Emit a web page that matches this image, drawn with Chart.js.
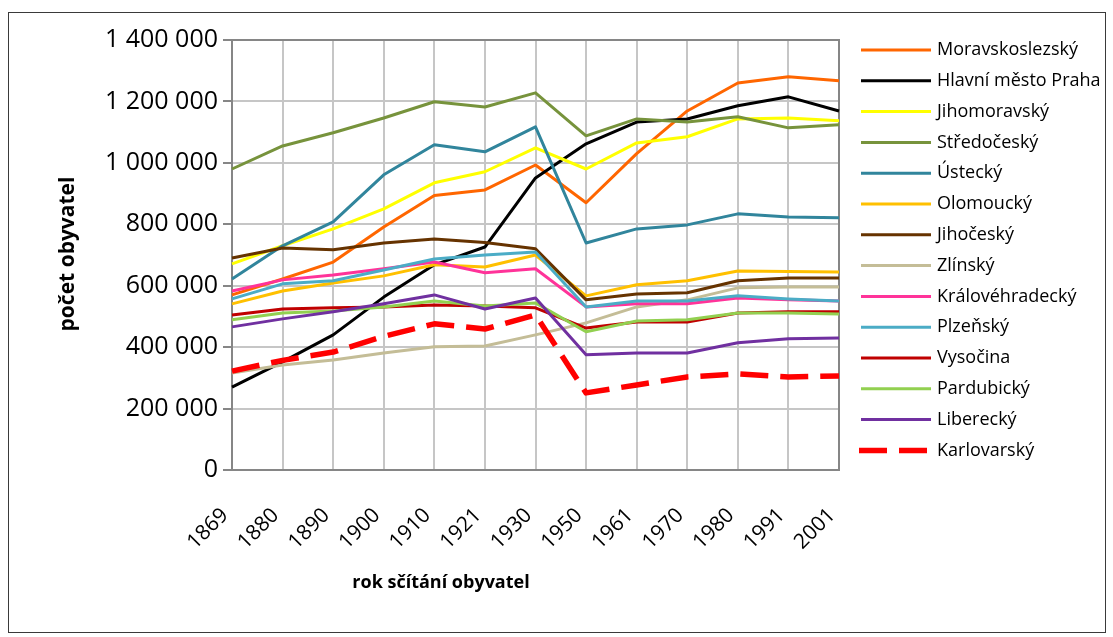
<!DOCTYPE html>
<html><head><meta charset="utf-8">
<script src="https://cdn.jsdelivr.net/npm/chart.js@4/dist/chart.umd.min.js"></script>
<style>html,body{margin:0;padding:0;background:#fff}#wrap{position:absolute;left:0;top:0;width:1113px;height:637px}</style>
</head><body><div id="wrap"><canvas id="c" width="1113" height="637"></canvas></div>
<script>
const years = ['1869','1880','1890','1900','1910','1921','1930','1950','1961','1970','1980','1991','2001'];
const yTicks = [0, 200000, 400000, 600000, 800000, 1000000, 1200000, 1400000];
const regions = ['Moravskoslezský','Hlavní město Praha','Jihomoravský','Středočeský','Ústecký','Olomoucký','Jihočeský','Zlínský','Královéhradecký','Plzeňský','Vysočina','Pardubický','Liberecký','Karlovarský'];
const moravskoslezsky = [570000, 622000, 677000, 791000, 894000, 912000, 993000, 870000, 1030000, 1169000, 1260000, 1280000, 1267000];
const praha = [270000, 352000, 440000, 563000, 668000, 726000, 951000, 1062000, 1133000, 1143000, 1186000, 1215000, 1169000];
const jihomoravsky = [671000, 730000, 785000, 850000, 935000, 971000, 1049000, 980000, 1065000, 1085000, 1143000, 1146000, 1137000];
const stredocesky = [980000, 1055000, 1098000, 1146000, 1199000, 1182000, 1228000, 1088000, 1143000, 1133000, 1150000, 1114000, 1124000];
const ustecky = [622000, 730000, 808000, 961000, 1059000, 1036000, 1117000, 739000, 785000, 798000, 834000, 824000, 821000];
const olomoucky = [541000, 583000, 609000, 632000, 668000, 661000, 700000, 567000, 603000, 616000, 648000, 646000, 645000];
const jihocesky = [690000, 723000, 717000, 739000, 752000, 741000, 720000, 554000, 573000, 577000, 616000, 625000, 625000];
const zlinsky = [316000, 342000, 358000, 381000, 401000, 404000, 440000, 479000, 531000, 554000, 593000, 596000, 596000];
const kralovehradecky = [583000, 619000, 635000, 655000, 677000, 642000, 655000, 531000, 541000, 541000, 560000, 554000, 550000];
const plzensky = [557000, 606000, 616000, 651000, 687000, 700000, 710000, 531000, 550000, 550000, 567000, 557000, 550000];
const vysocina = [505000, 524000, 528000, 531000, 537000, 534000, 528000, 462000, 482000, 482000, 511000, 515000, 515000];
const pardubicky = [489000, 511000, 518000, 531000, 550000, 534000, 544000, 450000, 485000, 489000, 511000, 511000, 508000];
const liberecky = [466000, 492000, 515000, 541000, 570000, 524000, 560000, 375000, 381000, 381000, 414000, 427000, 430000];
const karlovarsky = [322000, 357000, 384000, 435000, 476000, 459000, 505000, 251000, 277000, 303000, 313000, 303000, 306000];

const seriesValues = [moravskoslezsky, praha, jihomoravsky, stredocesky, ustecky, olomoucky, jihocesky, zlinsky, kralovehradecky, plzensky, vysocina, pardubicky, liberecky, karlovarsky];
const colors = ['#FF6600','#000000','#FFFF00','#77933C','#31859C','#FFC000','#663300','#C4BD97','#FF3399','#4BACC6','#C00000','#92D050','#7030A0','#FF0000'];

const FONT = '"Open Sans", "Noto Sans", sans-serif';

const datasets = regions.map((name, i) => {
  const dashed = name === 'Karlovarský';
  return {
    label: name,
    data: seriesValues[i],
    borderColor: colors[i],
    backgroundColor: colors[i],
    borderWidth: dashed ? 5.5 : 3,
    borderDash: dashed ? [28, 12] : [],
    borderCapStyle: 'butt',
    borderJoinStyle: 'round',
    pointRadius: 0,
    pointHoverRadius: 0,
    tension: 0,
    fill: false,
    order: -i
  };
});

function fmt(v) { return String(v).replace(/\B(?=(\d{3})+(?!\d))/g, ' '); }

const decor = {
  id: 'decor',
  beforeDraw(chart) {
    const ctx = chart.ctx;
    ctx.save();
    ctx.fillStyle = '#fff';
    ctx.fillRect(0, 0, chart.width, chart.height);
    ctx.strokeStyle = '#3a3a3a';
    ctx.lineWidth = 1;
    ctx.strokeRect(8.5, 12.5, 1097, 620);
    ctx.restore();
  },
  beforeDatasetsDraw(chart) {
    const ctx = chart.ctx;
    const a = chart.chartArea;
    ctx.save();
    ctx.strokeStyle = '#868686';
    ctx.lineWidth = 2;
    ctx.strokeRect(a.left, a.top, a.right - a.left, a.bottom - a.top);
    ctx.restore();
  },
  afterDraw(chart) {
    const ctx = chart.ctx;
    ctx.save();
    ctx.fillStyle = '#000';
    ctx.font = 'bold 21px ' + FONT;
    ctx.textAlign = 'center';
    ctx.textBaseline = 'middle';
    ctx.save();
    ctx.translate(68, 254);
    ctx.rotate(-Math.PI / 2);
    ctx.fillText('počet obyvatel', 0, 0);
    ctx.restore();
    ctx.font = 'bold 18px ' + FONT;
    ctx.fillText('rok sčítání obyvatel', 441, 583);
    ctx.font = '18px ' + FONT;
    ctx.textAlign = 'left';
    chart.data.datasets.forEach((ds, i) => {
      const y = 50 + i * 30.8;
      ctx.save();
      ctx.strokeStyle = ds.borderColor;
      ctx.lineWidth = ds.borderWidth;
      ctx.setLineDash(ds.borderDash || []);
      ctx.lineCap = 'butt';
      ctx.beginPath();
      ctx.moveTo(ds.borderDash && ds.borderDash.length ? 859 : 861, y);
      ctx.lineTo(931, y);
      ctx.stroke();
      ctx.restore();
      ctx.fillStyle = '#000';
      ctx.fillText(ds.label, 937, y);
    });
    ctx.restore();
  }
};

new Chart(document.getElementById('c'), {
  type: 'line',
  data: { labels: years, datasets },
  options: {
    responsive: false,
    animation: false,
    devicePixelRatio: 1,
    layout: { padding: { left: 0, top: 40, right: 274, bottom: 0 } },
    plugins: { legend: { display: false }, tooltip: { enabled: false }, title: { display: false } },
    scales: {
      x: {
        type: 'category',
        offset: false,
        grid: { color: '#c6c6c6', lineWidth: 2, drawTicks: false, offset: false },
        border: { display: false },
        ticks: { color: '#000', font: { family: FONT, size: 21 }, maxRotation: 45, minRotation: 45, padding: 33, labelOffset: -7, autoSkip: false },
        afterFit(s) { s.height = 167; }
      },
      y: {
        min: 0, max: 1400000,
        afterBuildTicks(s) { s.ticks = yTicks.map(v => ({ value: v })); },
        grid: { color: '#c6c6c6', lineWidth: 2, tickLength: 9, tickColor: '#868686', tickWidth: 2 },
        border: { display: false },
        ticks: { color: '#000', font: { family: FONT, size: 25 }, padding: 5, callback: v => fmt(v) },
        afterFit(s) { s.width = 232; }
      }
    }
  },
  plugins: [decor]
});
</script>
</body></html>
